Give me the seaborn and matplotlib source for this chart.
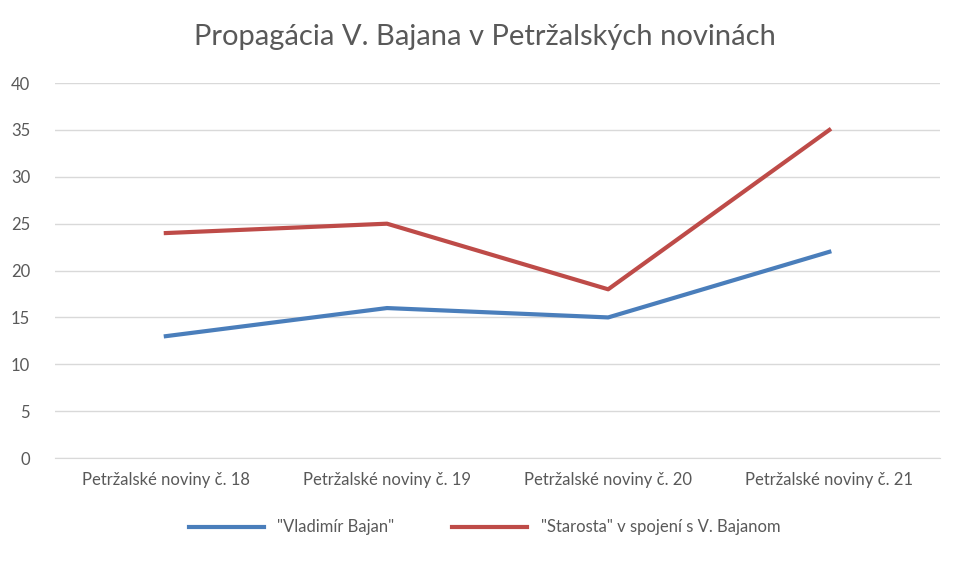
import matplotlib
matplotlib.use("Agg")
import matplotlib.pyplot as plt
import seaborn as sns
import pandas as pd

categories = ["Petržalské noviny č. 18", "Petržalské noviny č. 19", "Petržalské noviny č. 20", "Petržalské noviny č. 21"]
series_names = ['"Vladimír Bajan"', '"Starosta" v spojení s V. Bajanom']
vladimir = [13, 16, 15, 22]
starosta = [24, 25, 18, 35]
yticks = [0, 5, 10, 15, 20, 25, 30, 35, 40]

plt.rcParams["font.family"] = "Lato"
df = pd.DataFrame({
    "cat": categories * 2,
    "val": vladimir + starosta,
    "series": [series_names[0]] * 4 + [series_names[1]] * 4,
})

fig = plt.figure(figsize=(9.69, 5.69), dpi=100)
ax = fig.add_axes([0.057, 0.195, 0.913, 0.659])
sns.lineplot(data=df, x="cat", y="val", hue="series", sort=False, ax=ax,
             palette=["#4a7ebb", "#be4b48"], linewidth=3, legend=False)
ax.set_xlim(-0.5, 3.5)
ax.set_ylim(0, 40)
ax.set_yticks(yticks)
ax.grid(axis="y", color="#d9d9d9", linewidth=1)
ax.set_axisbelow(True)
for s in ["top", "right", "left"]:
    ax.spines[s].set_visible(False)
ax.spines["bottom"].set_color("#d9d9d9")
ax.tick_params(length=0, colors="#595959", labelsize=12)
ax.tick_params(axis="y", pad=18)
ax.tick_params(axis="x", pad=10)
ax.set_xlabel("")
ax.set_ylabel("")
fig.text(0.5, 0.935, "Propagácia V. Bajana v Petržalských novinách", ha="center", va="center",
         fontsize=21, color="#595959")
from matplotlib.lines import Line2D
handles = [Line2D([], [], color="#4a7ebb", lw=3), Line2D([], [], color="#be4b48", lw=3)]
fig.legend(handles, series_names, loc="center", bbox_to_anchor=(0.5, 0.073), ncol=2, frameon=False,
           fontsize=12, labelcolor="#595959", handlelength=4.5, columnspacing=3.5)
fig.savefig("out.png", dpi=100)
